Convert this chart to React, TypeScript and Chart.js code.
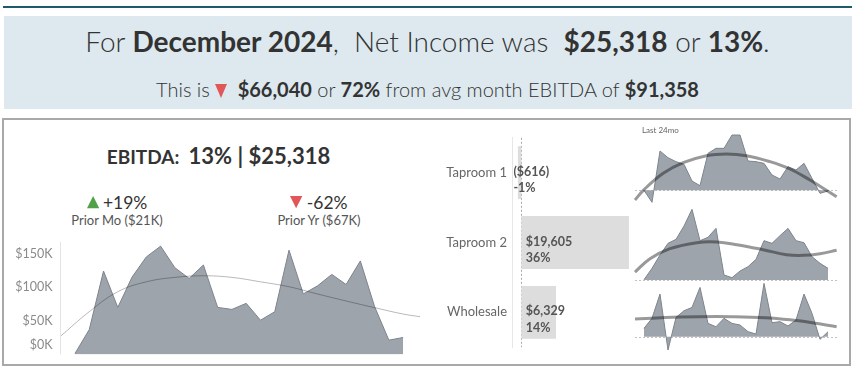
import React, { useEffect, useRef } from "react";
import { Chart, registerables } from "chart.js";

Chart.register(...registerables);

const FONT = "Lato, 'Open Sans', sans-serif";

// ---------- data ----------
const months = [
  "Jan 2023", "Feb 2023", "Mar 2023", "Apr 2023", "May 2023", "Jun 2023",
  "Jul 2023", "Aug 2023", "Sep 2023", "Oct 2023", "Nov 2023", "Dec 2023",
  "Jan 2024", "Feb 2024", "Mar 2024", "Apr 2024", "May 2024", "Jun 2024",
  "Jul 2024", "Aug 2024", "Sep 2024", "Oct 2024", "Nov 2024", "Dec 2024",
];

// total EBITDA per month, $K
const ebitdaK = [1.5, 37, 124, 70, 115, 145, 161, 129, 113, 133, 70, 67, 76, 51, 63.5, 155, 90, 102, 119, 104, 139, 71, 21.3, 25.3];
// trend line (month index, $K)
const ebitdaTrendX = [-1.05, 1, 3, 5, 7, 9, 11, 13, 15, 17, 19, 21, 23, 24.18];
const ebitdaTrendK = [26.5, 63.6, 93.3, 108, 114.6, 117, 114.6, 108, 100.7, 89.9, 79.5, 69.6, 60.1, 56.2];
const yTicksK = [0, 50, 100, 150];

const segments = ["Taproom 1", "Taproom 2", "Wholesale"];
const segmentEbitda = [-616, 19605, 6329];
const segmentMarginPct = [-1, 36, 14];

// last 24 months per segment, $K
const taproom1K = [0, -10.8, 35.4, 29.4, 25.8, 23.4, 8.4, 4.2, 33.3, 37.8, 37.8, 49.8, 49.8, 26.4, 25.8, 24.3, 13.8, 10.2, 21.3, 18.3, 24.3, 10.8, -2.7, -0.62];
const taproom1TrendX = [-1.125, -0.08, 2.4, 4.9, 7.8, 10.3, 12.8, 15.75, 18.25, 20.75, 22.8, 24.08];
const taproom1TrendK = [-8.7, 0, 15.3, 24.9, 31.2, 32.7, 31.2, 25.8, 19.2, 9.3, 0, -5.7];

const taproom2K = [0.5, 19.6, 42, 61.6, 68.3, 90.7, 118.7, 66.1, 71.7, 86.8, 8.4, 3.9, 15.1, 22.4, 34.7, 66.1, 61.6, 74.5, 86.8, 66.1, 62.7, 39.2, 28, 19.6];
const taproom2TrendX = [-1.125, 0.75, 3.25, 6.6, 9.1, 11.6, 14.9, 17.8, 19.9, 22, 24.08];
const taproom2TrendK = [13.4, 35.8, 52.6, 62.7, 63.8, 59.4, 51, 42.6, 41.4, 44.2, 50];

const wholesaleK = [10.8, 23.7, 55, -17.2, 24.9, 33.5, 37.8, 63.6, 17.2, 12.9, 23.7, 17.2, 15.1, 6.5, 3.4, 68.8, 18.1, 19.4, 13.8, 21.5, 55, 30.1, -3.4, 6.3];
const wholesaleTrendX = [-1.125, 2.67, 6.83, 11, 15.17, 18.5, 21, 24.08];
const wholesaleTrendK = [22.8, 24.9, 25.8, 25.8, 24.5, 21.5, 18.1, 12.9];

// ---------- styles ----------
const AREA_FILL = "#9ea4ac";
const AREA_LINE = "#7e848c";

const monthPoints = (values: number[]) => values.map((v, i) => ({ x: i, y: v, label: months[i] }));
const pairPoints = (xs: number[], ys: number[]) => xs.map((x, i) => ({ x, y: ys[i] }));
const money = (v: number) =>
  v < 0 ? `($${Math.abs(v).toLocaleString("en-US")})` : `$${v.toLocaleString("en-US")}`;

function ChartCanvas(props: { left: number; top: number; width: number; height: number; make: () => any }) {
  const ref = useRef<HTMLCanvasElement | null>(null);
  useEffect(() => {
    if (!ref.current) return;
    const chart = new Chart(ref.current, props.make());
    return () => chart.destroy();
  }, []);
  return (
    <canvas
      ref={ref}
      width={props.width}
      height={props.height}
      style={{ position: "absolute", left: props.left, top: props.top, width: props.width, height: props.height }}
    />
  );
}

const mainAxisPlugin = {
  id: "mainAxis",
  afterDraw(chart: any) {
    const { ctx, chartArea, scales } = chart;
    const y = scales.y;
    ctx.save();
    ctx.strokeStyle = "#e4e4e4";
    ctx.lineWidth = 1;
    ctx.beginPath();
    ctx.moveTo(chartArea.left + 0.5, chartArea.top);
    ctx.lineTo(chartArea.left + 0.5, chartArea.bottom);
    ctx.stroke();
    ctx.font = `12.5px ${FONT}`;
    ctx.fillStyle = "#8a8a8a";
    ctx.textAlign = "right";
    ctx.textBaseline = "middle";
    yTicksK.forEach((v) => {
      const py = Math.min(y.getPixelForValue(v), chartArea.bottom - 9.5);
      ctx.fillText(`$${v}K`, chartArea.left - 7.5, py);
    });
    ctx.restore();
  },
};

function makeMain() {
  return {
    type: "line",
    data: {
      datasets: [
        {
          data: pairPoints(ebitdaTrendX, ebitdaTrendK),
          borderColor: "rgba(0,0,0,0.28)",
          borderWidth: 1,
          pointRadius: 0,
          tension: 0.4,
          fill: false,
          order: 0,
        },
        {
          data: monthPoints(ebitdaK),
          borderColor: AREA_LINE,
          borderWidth: 1,
          backgroundColor: AREA_FILL,
          fill: "origin",
          pointRadius: 0,
          tension: 0,
          order: 1,
        },
      ],
    },
    options: {
      animation: false,
      responsive: false,
      events: [],
      layout: { padding: { left: 60, right: 10, top: 5.7, bottom: 3.5 } },
      scales: {
        x: { type: "linear", min: -1.05, max: 24.18, display: false },
        y: { min: 0, max: 167.6, display: false },
      },
      plugins: { legend: { display: false }, tooltip: { enabled: false } },
    },
    plugins: [mainAxisPlugin],
  };
}

const barPlugin = {
  id: "barDecor",
  beforeDatasetsDraw(chart: any) {
    const { ctx, chartArea, scales } = chart;
    const x0 = Math.round(scales.x.getPixelForValue(0)) + 0.5;
    ctx.save();
    ctx.strokeStyle = "#a8a8a8";
    ctx.lineWidth = 1;
    ctx.setLineDash([2, 2]);
    ctx.beginPath();
    ctx.moveTo(x0, chartArea.top);
    ctx.lineTo(x0, chartArea.bottom);
    ctx.stroke();
    ctx.restore();
  },
  afterDatasetsDraw(chart: any) {
    const { ctx, scales } = chart;
    const meta = chart.getDatasetMeta(0);
    ctx.save();
    ctx.font = `bold 12.5px ${FONT}`;
    ctx.fillStyle = "#555555";
    ctx.textAlign = "left";
    ctx.textBaseline = "middle";
    meta.data.forEach((bar: any, i: number) => {
      const v = segmentEbitda[i];
      const lx = v >= 0 ? scales.x.getPixelForValue(0) + 4.5 : scales.x.getPixelForValue(v) - 4.5;
      ctx.fillText(money(v), lx, bar.y - 1);
      ctx.fillText(`${segmentMarginPct[i]}%`, lx, bar.y + 15.5);
    });
    ctx.restore();
  },
};

function makeBars() {
  return {
    type: "bar",
    data: {
      labels: segments,
      datasets: [
        {
          data: segmentEbitda,
          backgroundColor: "#dddddd",
          barPercentage: 0.757,
          categoryPercentage: 1,
        },
      ],
    },
    options: {
      indexAxis: "y",
      animation: false,
      responsive: false,
      events: [],
      layout: { padding: { left: 0, right: 5, top: 7, bottom: 6 } },
      scales: {
        x: { min: -1694, max: 21620, display: false },
        y: {
          grid: { display: false, drawTicks: false },
          border: { display: true, color: "#e6e6e6" },
          ticks: { color: "#666666", font: { family: FONT, size: 13 }, padding: 5 },
          afterFit: (s: any) => {
            s.width = 82;
          },
        },
      },
      plugins: { legend: { display: false }, tooltip: { enabled: false } },
    },
    plugins: [barPlugin],
  };
}

const zeroDashPlugin = {
  id: "zeroDash",
  beforeDatasetsDraw(chart: any) {
    const { ctx, chartArea, scales } = chart;
    const y0 = Math.round(scales.y.getPixelForValue(0)) + 0.5;
    ctx.save();
    ctx.strokeStyle = "#c2c2c2";
    ctx.lineWidth = 1;
    ctx.setLineDash([2, 2]);
    ctx.beginPath();
    ctx.moveTo(chartArea.left, y0);
    ctx.lineTo(chartArea.right, y0);
    ctx.stroke();
    ctx.restore();
  },
};

function makeSpark(values: number[], tx: number[], ty: number[], yMin: number, yMax: number) {
  return () => ({
    type: "line",
    data: {
      datasets: [
        {
          data: pairPoints(tx, ty),
          borderColor: "rgba(0,0,0,0.4)",
          borderWidth: 3,
          pointRadius: 0,
          tension: 0.4,
          fill: false,
          order: 0,
          clip: false,
        },
        {
          data: monthPoints(values),
          borderColor: AREA_LINE,
          borderWidth: 1,
          backgroundColor: AREA_FILL,
          fill: "origin",
          pointRadius: 0,
          tension: 0,
          order: 1,
        },
      ],
    },
    options: {
      animation: false,
      responsive: false,
      events: [],
      layout: { padding: { left: 5, right: 5, top: 0, bottom: 0 } },
      scales: {
        x: { type: "linear", min: -1.125, max: 24.125, display: false },
        y: { min: yMin, max: yMax, display: false },
      },
      plugins: { legend: { display: false }, tooltip: { enabled: false } },
    },
    plugins: [zeroDashPlugin],
  });
}

function Tri(props: { up: boolean; color: string; w: number; h: number; style?: any }) {
  const pts = props.up ? `0,${props.h} ${props.w / 2},0 ${props.w},${props.h}` : `0,0 ${props.w},0 ${props.w / 2},${props.h}`;
  return (
    <svg width={props.w} height={props.h} style={{ display: "inline-block", verticalAlign: "baseline", ...props.style }}>
      <polygon points={pts} fill={props.color} />
    </svg>
  );
}

const GREEN = "#52a04a";
const RED = "#e15759";

export default function App() {
  const abs: any = { position: "absolute" };
  const b = { fontWeight: 700 };
  return (
    <div
      style={{
        position: "absolute",
        left: 0,
        top: 0,
        width: 855,
        height: 371,
        background: "#ffffff",
        overflow: "hidden",
        fontFamily: FONT,
        color: "#333333",
      }}
    >
      <div style={{ ...abs, left: 3, top: 6, width: 849, height: 2, background: "#1d5a6c" }} />
      <div style={{ ...abs, left: 4, top: 16, width: 848, height: 93, background: "#dde9ef" }} />
      <div
        style={{
          ...abs, left: 0, top: 25.4, width: 855, textAlign: "center", fontSize: 28, lineHeight: 1.2,
          whiteSpace: "pre", fontWeight: 300, color: "#333",
        }}
      >
        {"For "}<span style={b}>December 2024</span>{",  Net Income was  "}<span style={b}>$25,318</span>{" or "}<span style={b}>13%</span>{"."}
      </div>
      <div
        style={{
          ...abs, left: 0, top: 77.4, width: 855, textAlign: "center", fontSize: 20, lineHeight: 1.2,
          whiteSpace: "pre", fontWeight: 300, color: "#333",
        }}
      >
        {"This is "}
        <Tri up={false} color={RED} w={12} h={14} style={{ marginRight: 5, marginBottom: -1 }} />
        {" "}<span style={b}>$66,040</span>{" or "}<span style={b}>72%</span>{" from avg month EBITDA of "}<span style={b}>$91,358</span>
      </div>

      <div style={{ ...abs, left: 2, top: 118, width: 849, height: 248, border: "2px solid #a9a9a9", boxSizing: "border-box" }} />

      <div style={{ ...abs, left: 0, top: 142.6, width: 437, textAlign: "center", fontSize: 22, lineHeight: 1.2, whiteSpace: "pre", fontWeight: 700, color: "#333" }}>
        <span style={{ fontSize: 19 }}>{"EBITDA:  "}</span>{"13% | $25,318"}
      </div>

      <div style={{ ...abs, left: 17, top: 191.7, width: 200, textAlign: "center", fontSize: 17.5, lineHeight: 1.2, whiteSpace: "pre", color: "#333" }}>
        <Tri up={true} color={GREEN} w={12.3} h={12.3} style={{ marginRight: 4 }} />
        {"+19%"}
      </div>
      <div style={{ ...abs, left: 17, top: 213.2, width: 200, textAlign: "center", fontSize: 13, lineHeight: 1.2, whiteSpace: "pre", color: "#555" }}>
        {"Prior Mo ($21K)"}
      </div>
      <div style={{ ...abs, left: 219, top: 191.7, width: 200, textAlign: "center", fontSize: 17.5, lineHeight: 1.2, whiteSpace: "pre", color: "#333" }}>
        <Tri up={false} color={RED} w={12.3} h={12.3} style={{ marginRight: 4 }} />
        {"-62%"}
      </div>
      <div style={{ ...abs, left: 219, top: 213.2, width: 200, textAlign: "center", fontSize: 13, lineHeight: 1.2, whiteSpace: "pre", color: "#555" }}>
        {"Prior Yr ($67K)"}
      </div>

      <ChartCanvas left={0} top={236} width={430} height={122} make={makeMain} />
      <ChartCanvas left={430} top={125} width={215} height={235} make={makeBars} />

      <div style={{ ...abs, left: 642, top: 126, fontSize: 8, lineHeight: 1.2, color: "#666", whiteSpace: "pre" }}>{"Last 24mo"}</div>
      <ChartCanvas left={630} top={122} width={212} height={90} make={makeSpark(taproom1K, taproom1TrendX, taproom1TrendK, -19.5, 61.5)} />
      <ChartCanvas left={630} top={205} width={212} height={80} make={makeSpark(taproom2K, taproom2TrendX, taproom2TrendK, -8.4, 126.05)} />
      <ChartCanvas left={630} top={282} width={212} height={73} make={makeSpark(wholesaleK, wholesaleTrendX, wholesaleTrendK, -23.6, 70.58)} />
    </div>
  );
}
